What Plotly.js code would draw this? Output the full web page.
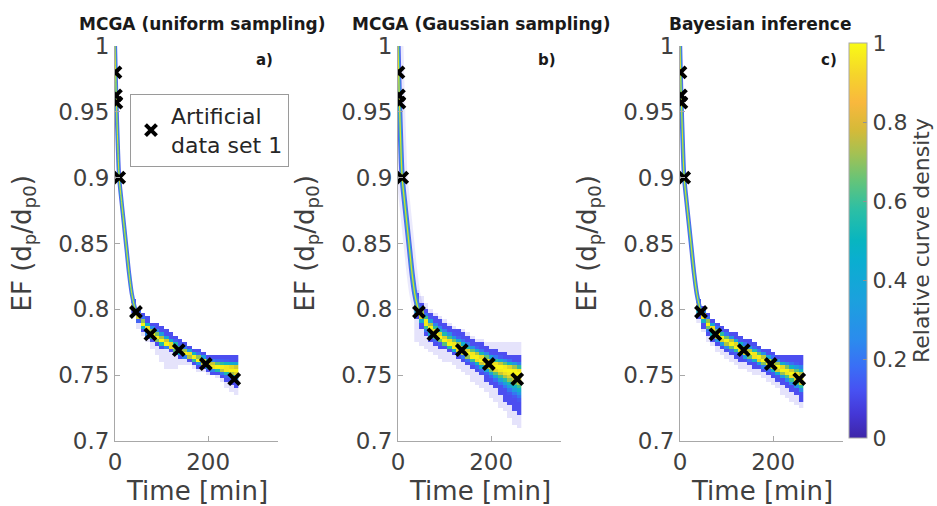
<!DOCTYPE html>
<html><head><meta charset="utf-8">
<script src="https://cdn.plot.ly/plotly-3.0.1.min.js"></script>
<style>html,body{margin:0;padding:0;background:#fff}#chart{width:937px;height:506px}</style>
</head><body><div id="chart"></div>
<script>
// ---------- data ----------
const panelTitles = ['MCGA (uniform sampling)', 'MCGA (Gaussian sampling)', 'Bayesian inference'];
const panelLetters = ['a)', 'b)', 'c)'];
const legendName = 'Artificial<br>data set 1';

// measured data set (black crosses)
const markerT = [1, 2, 3, 9, 45, 76, 137, 195, 256];
const markerV = [0.980, 0.9625, 0.957, 0.900, 0.798, 0.781, 0.769, 0.7585, 0.747];

// steep early part of the curve bundle (thin line)
const steepT = [0, 1, 3, 6, 9, 14, 20, 25, 30, 36, 42, 46];
const steepV = [1.0, 0.985, 0.958, 0.925, 0.90, 0.882, 0.862, 0.845, 0.828, 0.812, 0.802, 0.797];

// density columns (time bin centres, min)
const colT = [40,50,60,70,80,90,100,110,120,130,140,150,160,170,180,190,200,210,220,230,240,250,260];

// panel a
const aCenter = [0.803,0.795,0.789,0.785,0.781,0.778,0.776,0.774,0.772,0.770,0.768,0.7665,0.765,0.763,0.7615,0.760,0.7585,0.757,0.756,0.7555,0.755,0.7545,0.754];
const aUpper  = [0.808,0.801,0.797,0.794,0.791,0.789,0.787,0.7845,0.782,0.780,0.777,0.775,0.773,0.771,0.7695,0.768,0.766,0.7648,0.7646,0.7646,0.7646,0.7646,0.7646];
const aLower  = [0.797,0.789,0.782,0.778,0.7745,0.772,0.770,0.769,0.7675,0.766,0.7635,0.7615,0.760,0.758,0.756,0.7545,0.753,0.751,0.750,0.748,0.745,0.742,0.739];
const aHazeTop= [0.808,0.801,0.797,0.794,0.791,0.789,0.787,0.7845,0.782,0.780,0.777,0.775,0.773,0.771,0.7695,0.768,0.766,0.7648,0.7646,0.7646,0.7646,0.7646,0.7646];
const aHazeBot= [0.795,0.786,0.779,0.775,0.771,0.766,0.760,0.756,0.755,0.755,0.757,0.757,0.757,0.755,0.7535,0.752,0.7505,0.749,0.747,0.745,0.741,0.737,0.734];

// panel b
const bCenter = [0.803,0.796,0.790,0.7855,0.7815,0.7785,0.776,0.774,0.772,0.770,0.768,0.766,0.7645,0.763,0.7615,0.760,0.7585,0.757,0.756,0.755,0.754,0.753,0.752];
const bUpper  = [0.812,0.806,0.801,0.798,0.795,0.7925,0.790,0.788,0.786,0.784,0.782,0.780,0.778,0.776,0.774,0.772,0.770,0.769,0.768,0.767,0.766,0.765,0.764];
const bLower  = [0.793,0.785,0.779,0.776,0.773,0.771,0.769,0.7665,0.7645,0.7625,0.7605,0.758,0.755,0.752,0.749,0.746,0.7425,0.739,0.7345,0.731,0.727,0.7235,0.720];
const bHazeTop= [0.815,0.809,0.804,0.801,0.798,0.795,0.7925,0.790,0.788,0.786,0.784,0.782,0.780,0.778,0.7765,0.7755,0.7754,0.7754,0.7754,0.7754,0.7754,0.7754,0.7754];
const bHazeBot= [0.776,0.772,0.769,0.767,0.765,0.763,0.761,0.759,0.757,0.755,0.752,0.749,0.746,0.743,0.740,0.737,0.733,0.729,0.726,0.722,0.718,0.713,0.709];

// panel c
const cCenter = [0.803,0.795,0.789,0.785,0.781,0.778,0.776,0.774,0.772,0.770,0.768,0.7665,0.765,0.763,0.7615,0.7595,0.758,0.756,0.7545,0.753,0.751,0.749,0.747];
const cUpper  = [0.808,0.802,0.797,0.7935,0.790,0.787,0.785,0.7835,0.7815,0.7795,0.778,0.7765,0.775,0.773,0.771,0.769,0.7675,0.766,0.7646,0.764,0.764,0.764,0.764];
const cLower  = [0.7925,0.786,0.780,0.7755,0.7715,0.769,0.767,0.765,0.763,0.761,0.759,0.7575,0.756,0.754,0.752,0.750,0.7475,0.745,0.7425,0.740,0.737,0.734,0.731];
const cHazeTop= [0.808,0.802,0.797,0.7935,0.790,0.787,0.785,0.7835,0.7815,0.7795,0.778,0.7765,0.775,0.773,0.771,0.769,0.7675,0.766,0.7646,0.764,0.764,0.764,0.764];
const cHazeBot= [0.789,0.782,0.776,0.772,0.768,0.765,0.762,0.760,0.758,0.756,0.754,0.7525,0.751,0.749,0.747,0.745,0.742,0.739,0.736,0.733,0.730,0.727,0.725];

const yTickVals = [0.7,0.75,0.8,0.85,0.9,0.95,1];
const yTickText = ['0.7','0.75','0.8','0.85','0.9','0.95','1'];
const xTickVals = [0,200];
const xTickText = ['0','200'];
const cbTickVals = [0,0.2,0.4,0.6,0.8,1];
const cbTickText = ['0','0.2','0.4','0.6','0.8','1'];

// ---------- build ----------
const F = 'DejaVu Sans, sans-serif';
const W = 937, H = 506;
const yRows = [];
for (let i = 0; i < 48; i++) yRows.push(+(0.70125 + i * 0.0025).toFixed(5));

function buildZ(cen, up, low, hTop, hBot) {
  return yRows.map(y => colT.map((t, k) => {
    if (y <= up[k] && y >= low[k]) {
      const d = y >= cen[k] ? (y - cen[k]) / (up[k] - cen[k]) : (cen[k] - y) / (cen[k] - low[k]);
      return Math.max(0.14, Math.exp(-4.2 * d * d));
    }
    if (y <= hTop[k] && y >= hBot[k]) return 0.03;
    return null;
  }));
}

const densityScale = [[0,'rgba(95,80,225,0.06)'],[0.05,'rgba(90,78,228,0.22)'],[0.1,'rgba(80,75,235,0.65)'],
  [0.14,'rgb(76,78,240)'],[0.22,'rgb(58,108,245)'],[0.32,'rgb(40,140,235)'],[0.42,'rgb(25,165,215)'],
  [0.52,'rgb(15,180,195)'],[0.62,'rgb(60,192,140)'],[0.72,'rgb(150,195,80)'],[0.82,'rgb(205,200,50)'],
  [0.9,'rgb(238,222,35)'],[1,'rgb(249,246,20)']];
const parula = [[0,'#3e26a8'],[0.06,'#4437d6'],[0.12,'#4751f2'],[0.18,'#3a6ef6'],[0.25,'#2b8ced'],
  [0.35,'#1ba1dd'],[0.45,'#0aaed0'],[0.5,'#08b5c0'],[0.58,'#2dbfa4'],[0.65,'#63c47a'],[0.72,'#a4c153'],
  [0.78,'#d5ba38'],[0.85,'#f9b83d'],[0.92,'#f5d42b'],[1,'#f9fb15']];

const panels = [
  {cen:aCenter, up:aUpper, low:aLower, ht:aHazeTop, hb:aHazeBot, x:'x', y:'y', dom:[115,278], titleX:202, wide:1},
  {cen:bCenter, up:bUpper, low:bLower, ht:bHazeTop, hb:bHazeBot, x:'x2', y:'y2', dom:[398,561], titleX:481, wide:1.25},
  {cen:cCenter, up:cUpper, low:cLower, ht:cHazeTop, hb:cHazeBot, x:'x3', y:'y3', dom:[680,843], titleX:760, wide:1.05}
];

const traces = [];
panels.forEach((p, i) => {
  traces.push({type:'heatmap', x:colT, y:yRows, z:buildZ(p.cen, p.up, p.low, p.ht, p.hb),
    zmin:0, zmax:1, colorscale:densityScale, showscale:false, hoverinfo:'skip', xaxis:p.x, yaxis:p.y});
  if (i === 1) traces.push({type:'scatter', mode:'lines', x:steepT, y:steepV, xaxis:p.x, yaxis:p.y,
    line:{color:'rgba(90,80,230,0.12)', width:11, shape:'spline'}, showlegend:false, hoverinfo:'skip'});
  traces.push({type:'scatter', mode:'lines', x:steepT, y:steepV, xaxis:p.x, yaxis:p.y,
    line:{color:'#5266ee', width:4.2*p.wide, shape:'spline'}, showlegend:false, hoverinfo:'skip'});
  traces.push({type:'scatter', mode:'lines', x:steepT, y:steepV, xaxis:p.x, yaxis:p.y,
    line:{color:'#27b0c6', width:2.4*p.wide, shape:'spline'}, showlegend:false, hoverinfo:'skip'});
  traces.push({type:'scatter', mode:'lines', x:steepT, y:steepV, xaxis:p.x, yaxis:p.y,
    line:{color:'#d9dc2a', width:1*p.wide, shape:'spline'}, showlegend:false, hoverinfo:'skip'});
});
panels.forEach((p, i) => {
  traces.push({type:'scatter', mode:'markers', x:markerT, y:markerV, xaxis:p.x, yaxis:p.y,
    name:legendName, showlegend:i === 0, hoverinfo:'skip',
    marker:{symbol:'x-thin', size:11, color:'#000', line:{color:'#000', width:4}}});
});
// colour bar carrier
traces.push({type:'scatter', mode:'markers', x:[null], y:[null], showlegend:false, hoverinfo:'skip',
  marker:{color:[0], cmin:0, cmax:1, colorscale:parula, showscale:true,
    colorbar:{x:849/W, xanchor:'left', xpad:0, ypad:0, y:1-240.5/H, yanchor:'middle', len:395/H, lenmode:'fraction',
      thickness:18, thicknessmode:'pixels', outlinecolor:'#a8a8a8', outlinewidth:1,
      tickvals:cbTickVals, ticktext:cbTickText, ticks:'inside', ticklen:4, tickcolor:'#909090',
      tickfont:{family:F, size:22, color:'#404040'},
      title:{text:'Relative curve density', side:'right', font:{family:F, size:22, color:'#404040'}}}}});

const yDom = [(H-441)/H, (H-46)/H];
const layout = {width:W, height:H, margin:{l:0, r:0, t:0, b:0}, paper_bgcolor:'#fff', plot_bgcolor:'rgba(0,0,0,0)',
  font:{family:F, color:'#404040'},
  legend:{x:130/W, y:1-94/H, xanchor:'left', yanchor:'top', bgcolor:'#fff', bordercolor:'#9a9a9a', borderwidth:1,
    font:{family:F, size:22, color:'#262626'}, itemwidth:30, valign:'middle'},
  annotations:[], showlegend:true};

panels.forEach((p, i) => {
  const sfx = i === 0 ? '' : String(i + 1);
  layout['xaxis' + sfx] = {domain:[p.dom[0]/W, p.dom[1]/W], anchor:'y' + sfx, range:[0,350],
    showline:true, linecolor:'#a8a8a8', linewidth:1, ticks:'inside', ticklen:5, tickcolor:'#a8a8a8',
    tickvals:xTickVals, ticktext:xTickText, showgrid:false, zeroline:false,
    tickfont:{family:F, size:23, color:'#404040'}, fixedrange:true};
  layout['yaxis' + sfx] = {domain:yDom, anchor:'x' + sfx, range:[0.7,1.0],
    showline:true, linecolor:'#a8a8a8', linewidth:1, ticks:'inside', ticklen:5, tickcolor:'#a8a8a8',
    tickvals:yTickVals, ticktext:yTickText, showgrid:false, zeroline:false,
    tickfont:{family:F, size:23, color:'#404040'}, fixedrange:true};
  const cx = (p.dom[0] + p.dom[1]) / 2 / W;
  layout.annotations.push({text:'<b>' + panelTitles[i] + '</b>', xref:'paper', yref:'paper', x:p.titleX/W, y:1-24/H,
    xanchor:'center', yanchor:'middle', showarrow:false, font:{family:F, size:17, color:'#1a1a1a'}});
  layout.annotations.push({text:'<b>' + panelLetters[i] + '</b>', xref:'paper', yref:'paper', x:(p.dom[1]-14)/W, y:1-60/H,
    xanchor:'center', yanchor:'middle', showarrow:false, font:{family:F, size:15, color:'#1a1a1a'}});
  layout.annotations.push({text:'Time [min]', xref:'paper', yref:'paper', x:cx, y:1-491/H,
    xanchor:'center', yanchor:'middle', showarrow:false, font:{family:F, size:26, color:'#404040'}});
  layout.annotations.push({text:'EF (d<sub>p</sub>/d<sub>p0</sub>)', xref:'paper', yref:'paper', x:(p.dom[0]-92)/W,
    y:(yDom[0]+yDom[1])/2, xanchor:'center', yanchor:'middle', textangle:-90, showarrow:false,
    font:{family:F, size:26, color:'#404040'}});
});

Plotly.newPlot('chart', traces, layout, {displayModeBar:false, staticPlot:true});
</script></body></html>
